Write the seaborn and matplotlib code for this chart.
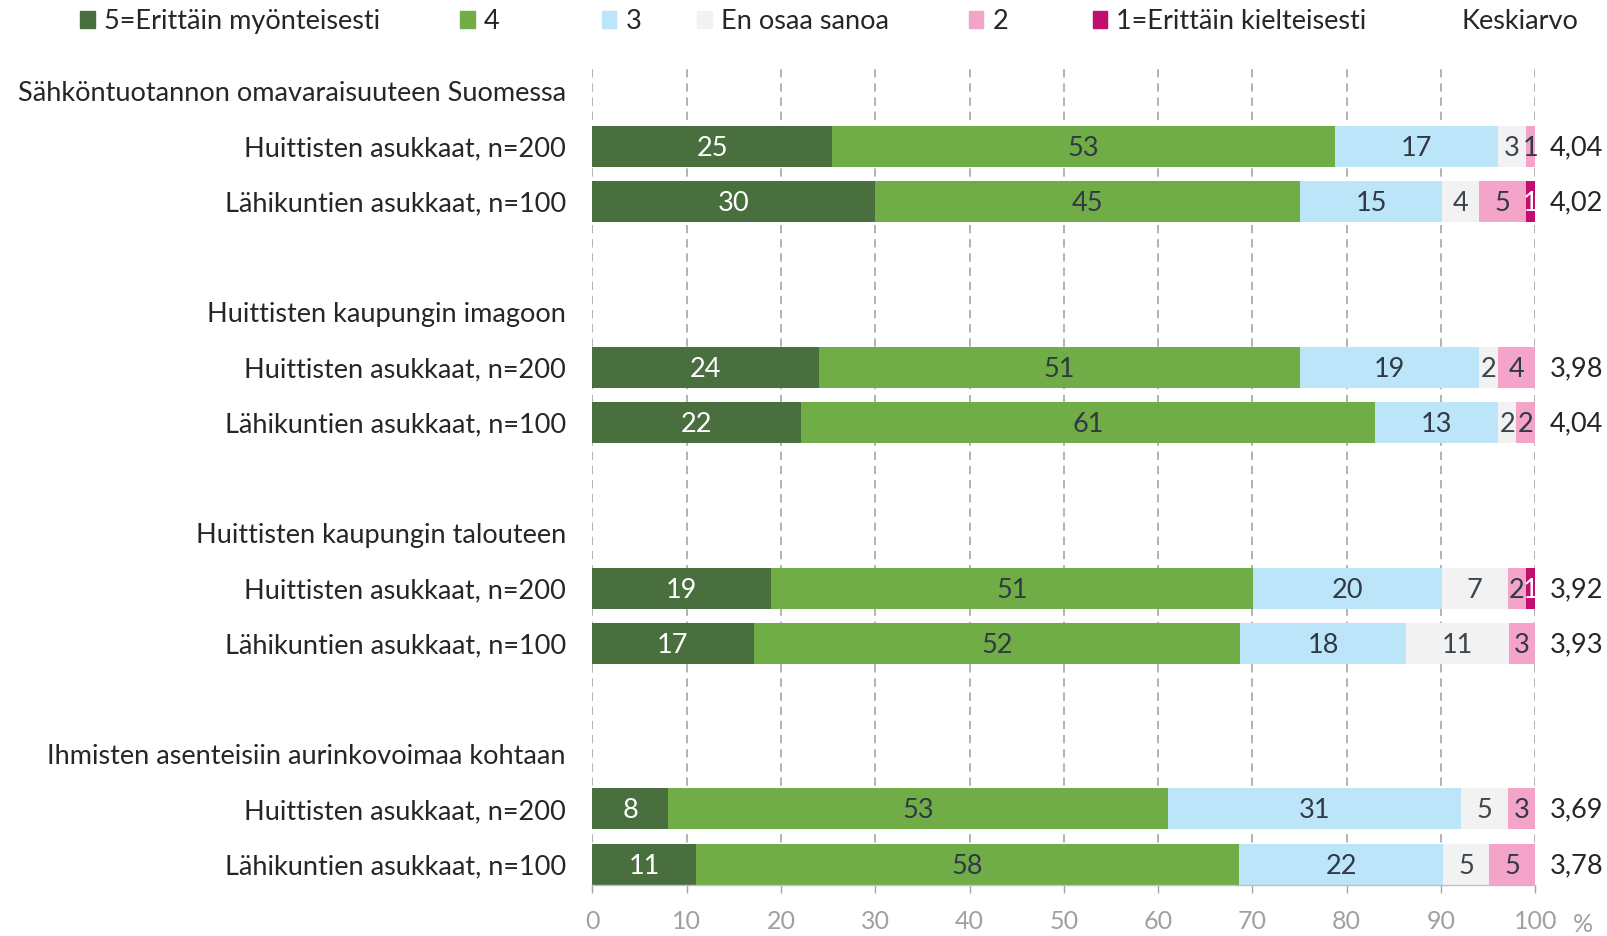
import numpy as np
import pandas as pd
import matplotlib
matplotlib.use("Agg")
import matplotlib.pyplot as plt
import seaborn as sns

# ---------------- data ----------------
categories = ["5=Erittäin myönteisesti", "4", "3", "En osaa sanoa", "2", "1=Erittäin kielteisesti"]
colors = ["#4A6F3F", "#70AD47", "#BDE5FA", "#F2F2F2", "#F4A3C9", "#C20E6F"]
label_colors = ["white", "#2F3A45", "#2F3A45", "#3A4550", "#2F3A45", "white"]

groups = [
    "Sähköntuotannon omavaraisuuteen Suomessa",
    "Huittisten kaupungin imagoon",
    "Huittisten kaupungin talouteen",
    "Ihmisten asenteisiin aurinkovoimaa kohtaan",
]
respondents = ["Huittisten asukkaat, n=200", "Lähikuntien asukkaat, n=100"]

# percentages per row (order of categories)
v5   = [25.4, 30.0, 24.0, 22.1, 18.9, 17.1, 8.0, 11.0]
v4   = [53.4, 45.1, 51.1, 60.9, 51.2, 51.6, 53.1, 57.6]
v3   = [17.3, 15.0, 18.9, 13.1, 20.0, 17.6, 31.0, 21.6]
veos = [2.9, 3.9, 2.1, 1.9, 7.0, 10.9, 5.0, 4.9]
v2   = [1.0, 5.0, 3.9, 2.0, 1.9, 2.8, 2.9, 4.9]
v1   = [0.0, 1.0, 0.0, 0.0, 1.0, 0.0, 0.0, 0.0]
means = ["4,04", "4,02", "3,98", "4,04", "3,92", "3,93", "3,69", "3,78"]
xticks = [0, 10, 20, 30, 40, 50, 60, 70, 80, 90, 100]

# ---------------- layout of rows ----------------
order, ticklabels, bar_keys = [], [], []
for gi, g in enumerate(groups):
    order.append(f"h{gi}"); ticklabels.append(g)
    for ri, r in enumerate(respondents):
        k = f"g{gi}r{ri}"
        order.append(k); ticklabels.append(r); bar_keys.append(k)
    if gi < len(groups) - 1:
        order.append(f"b{gi}"); ticklabels.append("")

vals = np.array([v5, v4, v3, veos, v2, v1]).T  # rows x cats
cum = np.cumsum(vals, axis=1)
df = pd.DataFrame(cum, columns=categories)
df["key"] = bar_keys

FONT = ["Lato", "DejaVu Sans"]
sns.set_theme(style="white")
plt.rcParams["font.family"] = FONT

FS = 19.5
W, H = 1568.0, 913.0  # reference coordinates used for layout fractions

fig = plt.figure(figsize=(16.07, 9.36), dpi=100)
ax = fig.add_axes([578 / W, 0.055, (1498 - 578) / W, 0.874])

# draw cumulative bars from last to first so that they stack
for ci in range(len(categories) - 1, -1, -1):
    sns.barplot(data=df, x=categories[ci], y="key", order=order, orient="h",
                color=colors[ci], width=0.74, ax=ax, saturation=1,
                linewidth=0, zorder=3, legend=False)

# segment labels
pos = {k: i for i, k in enumerate(order)}
for ri, k in enumerate(bar_keys):
    y = pos[k]
    left = 0
    for ci in range(len(categories)):
        w = vals[ri, ci]
        if round(w) > 0:
            ax.annotate(f"{w:.0f}", xy=(left + w / 2, y), xytext=(0, -1.5),
                        textcoords="offset points", ha="center", va="center",
                        fontsize=FS, color=label_colors[ci], zorder=5)
        left += w
    ax.annotate(means[ri], xy=(100, y), xycoords="data", xytext=(29.5, -1),
                textcoords="offset points", ha="center", va="center",
                fontsize=FS, color="#262626", annotation_clip=False)

ax.set_xlim(0, 100)
ax.set_ylim(14.37, -0.45)
ax.set_xticks(xticks)
ax.set_xticklabels([str(t) for t in xticks])
ax.tick_params(axis="x", colors="#A6A6A6", labelsize=18, length=6, width=1,
               direction="out", bottom=True, pad=12)
for lab in ax.get_xticklabels():
    lab.set_color("#A0A0A0")
ax.set_yticks(range(len(order)))
ax.set_yticklabels(ticklabels, fontsize=FS, color="#262626")
ax.tick_params(axis="y", length=0, pad=19)
ax.set_xlabel(""); ax.set_ylabel("")

for x in xticks:
    ax.axvline(x, color="#A6A6A6", linestyle=(0, (5, 3.5)), linewidth=1.2, zorder=1)

for s in ["top", "right", "left"]:
    ax.spines[s].set_visible(False)
ax.spines["bottom"].set_color("#BFBFBF")
ax.spines["bottom"].set_linewidth(1)
ax.spines["bottom"].set_zorder(4)

ax.annotate("%", xy=(100, 0), xycoords=("data", "axes fraction"), xytext=(34.5, -29),
            textcoords="offset points", ha="center", va="center",
            fontsize=18, color="#A0A0A0", annotation_clip=False)

# legend: one entry per legend, placed like the reference
leg_x = [78, 449, 587, 680, 945, 1066]
for c, lab, lx in zip(colors, categories, leg_x):
    h = plt.Rectangle((0, 0), 1, 1, color=c)
    lg = fig.legend([h], [lab], loc="center left", bbox_to_anchor=(lx / W, 1 - 21 / H),
                    frameon=False, fontsize=FS, handlelength=0.55, handleheight=0.55,
                    handletextpad=0.33, borderaxespad=0, borderpad=0)
    for t in lg.get_texts():
        t.set_color("#262626")
fig.text(1483 / W, 1 - 21 / H, "Keskiarvo", ha="center", va="center",
         fontsize=FS, color="#262626")

fig.savefig("out.png", dpi=100, facecolor="white")
